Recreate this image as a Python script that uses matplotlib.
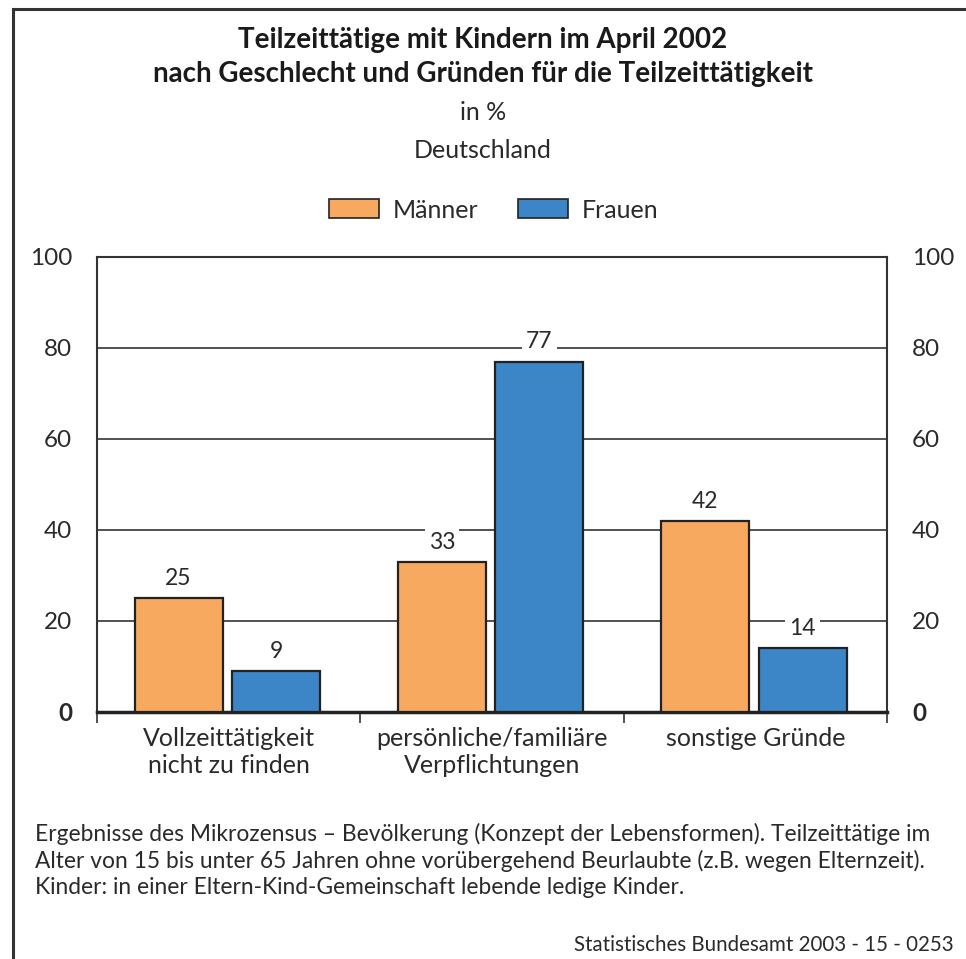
import numpy as np
import matplotlib.pyplot as plt
from matplotlib.lines import Line2D
from matplotlib.patches import Patch

plt.rcParams['font.family'] = ['Lato', 'DejaVu Sans']

# Daten
kategorien = ["Vollzeittätigkeit\nnicht zu finden", "persönliche/familiäre\nVerpflichtungen", "sonstige Gründe"]
maenner = [25, 33, 42]
frauen = [9, 77, 14]
y_ticks = [0, 20, 40, 60, 80, 100]

farbe_m = "#F7A95F"
farbe_f = "#3C85C6"
rand = "#222222"
textfarbe = "#2a2a2a"

fig = plt.figure(figsize=(9.66, 9.59), dpi=100)
ax = fig.add_axes([0.1004, 0.2576, 0.8178, 0.4745])

x = np.arange(len(kategorien)) + 0.5
breite = 0.334
ax.bar(x - 0.19, maenner, breite, color=farbe_m, edgecolor=rand, linewidth=1.6, zorder=3)
ax.bar(x + 0.18, frauen, breite, color=farbe_f, edgecolor=rand, linewidth=1.6, zorder=3)

for xi, m, f in zip(x, maenner, frauen):
    for pos, val in [(xi - 0.19, m), (xi + 0.18, f)]:
        ax.text(pos, val + 2.0, str(val), ha="center", va="bottom", fontsize=16.5, color=textfarbe,
                zorder=4, bbox=dict(facecolor="white", edgecolor="none", pad=3))

ax.set_xlim(0, 3)
ax.set_ylim(0, 100)
for yv in y_ticks[1:-1]:
    ax.axhline(yv, color="#333333", linewidth=1.2, zorder=1)

ax.set_yticks(y_ticks)
ax.set_yticklabels([str(v) for v in y_ticks])
ax.tick_params(axis="y", length=0, pad=18, labelsize=17.5, colors=textfarbe, left=True, right=True,
               labelleft=True, labelright=True)
ax.yaxis.get_major_ticks()[0].label1.set_fontweight("bold")
ax.yaxis.get_major_ticks()[0].label2.set_fontweight("bold")

ax.set_xticks([0, 1, 2, 3])
ax.set_xticklabels([])
ax.tick_params(axis="x", length=8, width=1.2, color="#333333", direction="out")
for xi, kat in zip(x, kategorien):
    ax.text(xi, -3.2, kat, ha="center", va="top", fontsize=18, color=textfarbe, linespacing=1.25)

for s in ["left", "right", "top"]:
    ax.spines[s].set_linewidth(1.5)
    ax.spines[s].set_color("#333333")
ax.spines["bottom"].set_linewidth(2.5)
ax.spines["bottom"].set_color("#222222")

# Titel
fig.text(0.5, 0.958, "Teilzeittätige mit Kindern im April 2002", ha="center", va="center",
         fontsize=20, fontweight="bold", color="#1a1a1a")
fig.text(0.5, 0.923, "nach Geschlecht und Gründen für die Teilzeittätigkeit", ha="center", va="center",
         fontsize=20, fontweight="bold", color="#1a1a1a")
fig.text(0.5, 0.883, "in %", ha="center", va="center", fontsize=18, color=textfarbe)
fig.text(0.5, 0.843, "Deutschland", ha="center", va="center", fontsize=18, color=textfarbe)

handles = [Patch(facecolor=farbe_m, edgecolor=rand, linewidth=1.2),
           Patch(facecolor=farbe_f, edgecolor=rand, linewidth=1.2)]
fig.legend(handles, ["Männer", "Frauen"], loc="center", bbox_to_anchor=(0.511, 0.781), ncol=2,
           frameon=False, fontsize=18, handlelength=2.0, handleheight=0.8, columnspacing=1.6,
           handletextpad=0.55, labelcolor=textfarbe)

fussnote = ("Ergebnisse des Mikrozensus – Bevölkerung (Konzept der Lebensformen). Teilzeittätige im\n"
            "Alter von 15 bis unter 65 Jahren ohne vorübergehend Beurlaubte (z.B. wegen Elternzeit).\n"
            "Kinder: in einer Eltern-Kind-Gemeinschaft lebende ledige Kinder.")
fig.text(0.036, 0.103, fussnote, ha="left", va="center", fontsize=16.4, color=textfarbe, linespacing=1.27)
fig.text(0.987, 0.015, "Statistisches Bundesamt 2003 - 15 - 0253", ha="right", va="center",
         fontsize=14.8, color=textfarbe)

# Rahmen
fig.add_artist(Line2D([0.013, 0.013], [0, 0.991], transform=fig.transFigure, color="#333333", linewidth=2.2))
fig.add_artist(Line2D([0.013, 1], [0.991, 0.991], transform=fig.transFigure, color="#333333", linewidth=2.2))

fig.savefig("out.png", dpi=100)
